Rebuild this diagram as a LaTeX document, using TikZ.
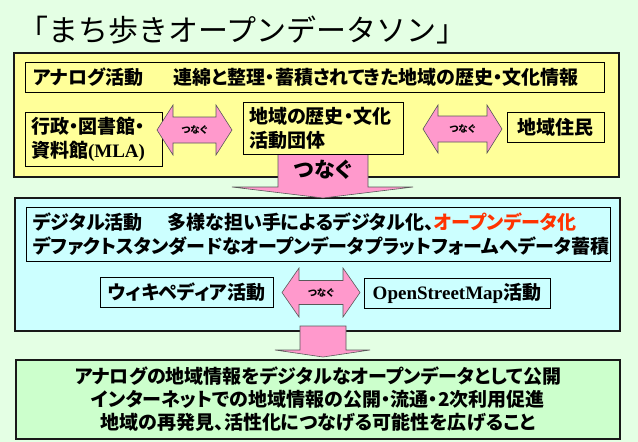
\documentclass[tikz,border=0pt]{standalone}
\usepackage{fontspec}
\setmainfont{Liberation Serif}
\newfontfamily\jp[RawFeature=+palt]{Noto Sans CJK JP}
\newfontfamily\jptitle{Noto Sans CJK JP}
\definecolor{bgc}{HTML}{E4FFE4}
\definecolor{yel}{HTML}{FFFF99}
\definecolor{cyn}{HTML}{CCFFFF}
\definecolor{grn}{HTML}{CCFFCC}
\definecolor{pnk}{HTML}{FF99CC}
\definecolor{redt}{HTML}{FF3300}
\newcommand\dblarr[6]{% cx, cy, halflen, headlen, headhalf, stemhalf
  \draw[pinkarrow] (#1-#3,#2) -- (#1-#3+#4,#2-#5) -- (#1-#3+#4,#2-#6) -- (#1+#3-#4,#2-#6)
    -- (#1+#3-#4,#2-#5) -- (#1+#3,#2) -- (#1+#3-#4,#2+#5) -- (#1+#3-#4,#2+#6)
    -- (#1-#3+#4,#2+#6) -- (#1-#3+#4,#2+#5) -- cycle;}
\begin{document}
\begin{tikzpicture}[x=1pt,y=-1pt,
  outerbox/.style={draw=black!90,line width=2.2pt,inner sep=0pt},
  inbox/.style={draw=black,line width=0.8pt,font=\jp\bfseries\fontsize{19}{24}\selectfont},
  pinkarrow/.style={draw=black!65,fill=pnk,line width=0.6pt,line join=miter},
  small/.style={font=\jp\bfseries\fontsize{9.5}{10}\selectfont},
  every node/.style={text=black}]
\fill[bgc] (0,0) rectangle (638,442);
\useasboundingbox (0,0) rectangle (638,442);
% title
\node[anchor=base west,inner sep=0pt,font=\jptitle\fontsize{30}{32}\selectfont] (title) at (18,41) {「まち歩きオープンデータソン」};
% outer boxes
\node[outerbox,fill=yel,minimum width=605pt,minimum height=124pt] (analogarea) at (316.5,115) {};
\node[outerbox,fill=cyn,minimum width=605pt,minimum height=133pt] (digitalarea) at (317.5,264.5) {};
\node[outerbox,fill=grn,minimum width=604pt,minimum height=79pt,align=center,
  font=\jp\bfseries\fontsize{19}{23}\selectfont] (result) at (318,399.5)
  {アナログの地域情報をデジタルなオープンデータとして公開\\
   インターネットでの地域情報の公開・流通・2次利用促進\\
   地域の再発見、活性化につなげる可能性を広げること};
% big down arrows
\draw[pinkarrow] (278,150) -- (368,150) -- (368,187) -- (413,187) -- (323,198) -- (232,187) -- (278,187) -- cycle;
\node[font=\jp\bfseries\fontsize{21}{24}\selectfont] (tsunagu) at (323,170) {つなぐ};
\draw[pinkarrow] (300,326) -- (346,326) -- (346,350) -- (370,350) -- (323,357) -- (275,350) -- (300,350) -- cycle;
% inner boxes (analog)
\node[inbox,fill=yel,minimum width=579pt,minimum height=30pt,text width=563pt,inner xsep=8pt,align=left] (analog) at (314.5,77)
  {アナログ活動\hspace{1.6em}連綿と整理・蓄積されてきた地域の歴史・文化情報};
\node[inbox,fill=yel,minimum width=137pt,minimum height=54pt,text width=125pt,inner xsep=6pt,align=left] (mla) at (93.5,139)
  {行政・図書館・\\資料館{\rmfamily\bfseries(MLA)}};
\node[inbox,fill=yel,minimum width=160pt,minimum height=52pt,text width=148pt,inner xsep=6pt,align=left] (history) at (323,128)
  {地域の歴史・文化\\活動団体};
\node[inbox,fill=yel,minimum width=97pt,minimum height=30pt] (residents) at (555.5,127) {地域住民};
% inner boxes (digital)
\node[inbox,fill=cyn,minimum width=584pt,minimum height=54pt,text width=570pt,inner xsep=7pt,align=left] (digital) at (318,234)
  {デジタル活動\hspace{1.3em}多様な担い手によるデジタル化、{\color{redt}オープンデータ化}\\
   デファクトスタンダードなオープンデータプラットフォームへデータ蓄積};
\node[inbox,fill=cyn,minimum width=173pt,minimum height=30pt] (wiki) at (186.5,292) {ウィキペディア活動};
\node[inbox,fill=cyn,minimum width=186pt,minimum height=30pt] (osm) at (457,293) {{\rmfamily\bfseries OpenStreetMap}活動};
% double arrows
\dblarr{194.5}{130}{37.5}{16}{25}{13}
\node[small] (t1) at (194.5,130) {つなぐ};
\dblarr{462.5}{129}{39.5}{15}{24}{13}
\node[small] (t2) at (462.5,129) {つなぐ};
\dblarr{321}{292.5}{39}{17}{24.5}{12}
\node[small] (t3) at (321,292.5) {つなぐ};
\end{tikzpicture}
\end{document}
